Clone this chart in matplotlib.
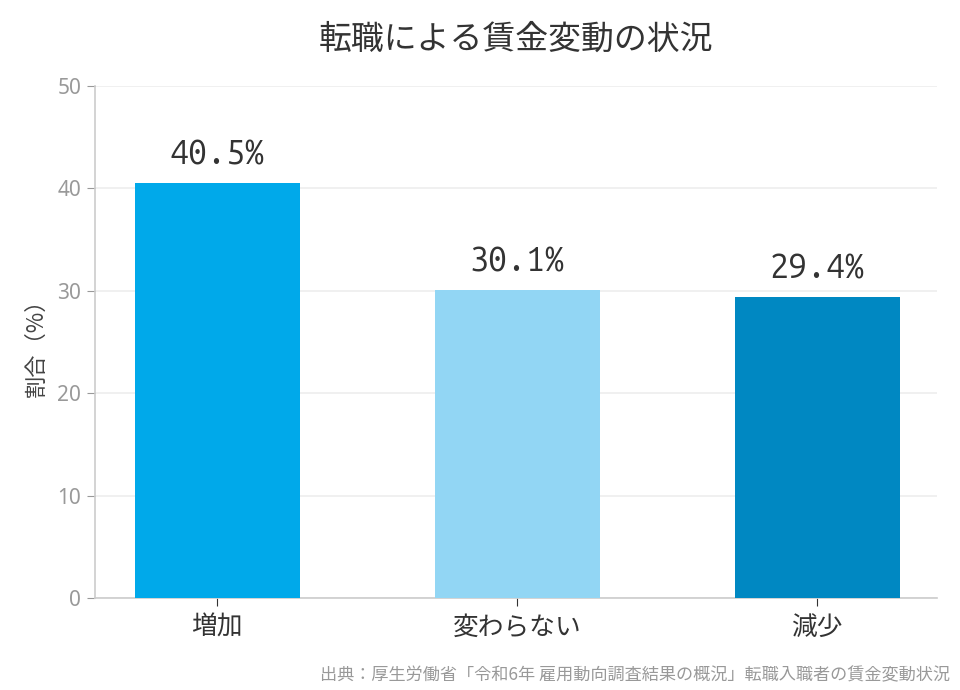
import matplotlib
matplotlib.use("Agg")
import matplotlib.pyplot as plt

categories = ["増加", "変わらない", "減少"]
values = [40.5, 30.1, 29.4]
bar_colors = ["#00A9EA", "#92D6F4", "#0088C2"]
yticks = [0, 10, 20, 30, 40, 50]
title = "転職による賃金変動の状況"
ylabel = "割合（%）"
source = "出典：厚生労働省「令和6年 雇用動向調査結果の概況」転職入職者の賃金変動状況"

jp = ["Noto Sans CJK JP", "DejaVu Sans"]
mono = ["Ubuntu Mono", "DejaVu Sans Mono"]
plt.rcParams["font.family"] = jp

fig = plt.figure(figsize=(9.6, 6.9), dpi=100)
ax = fig.add_axes([95/960, 92/690, (937-95)/960, (598-86)/690])

x = range(len(categories))
bars = ax.bar(x, values, width=0.55, color=bar_colors, zorder=3)
for b, v in zip(bars, values):
    ax.annotate(f"{v:.1f}%", (b.get_x() + b.get_width()/2, v), xytext=(0, 9),
                textcoords="offset points", ha="center", va="bottom",
                fontsize=24.5, color="#333333", family=mono)

ax.set_xlim(-0.407, 2.4)
ax.set_ylim(0, 50)
ax.set_yticks(yticks)
ax.set_xticks(list(x))
ax.set_xticklabels(categories, fontsize=18.5, color="#333333")
ax.tick_params(axis="x", length=6, color="#333333", pad=6)
ax.tick_params(axis="y", length=6, color="#999999", labelcolor="#999999", labelsize=15, pad=4)
for lab in ax.get_yticklabels():
    lab.set_family(["Noto Sans", "DejaVu Sans"])
ax.grid(axis="y", color="#EEEEEE", linewidth=1.2, zorder=0)
for s in ["top", "right"]:
    ax.spines[s].set_visible(False)
for s in ["left", "bottom"]:
    ax.spines[s].set_color("#CCCCCC")
    ax.spines[s].set_linewidth(1.2)

ax.set_ylabel(ylabel, fontsize=16, color="#444444", labelpad=7)
fig.text(516/960, 1 - 40/690, title, ha="center", va="center", fontsize=23.7, color="#333333")
fig.text(950/960, 1 - 675/690, source, ha="right", va="center", fontsize=12.35, color="#999999")

fig.savefig("out.png", dpi=100)
